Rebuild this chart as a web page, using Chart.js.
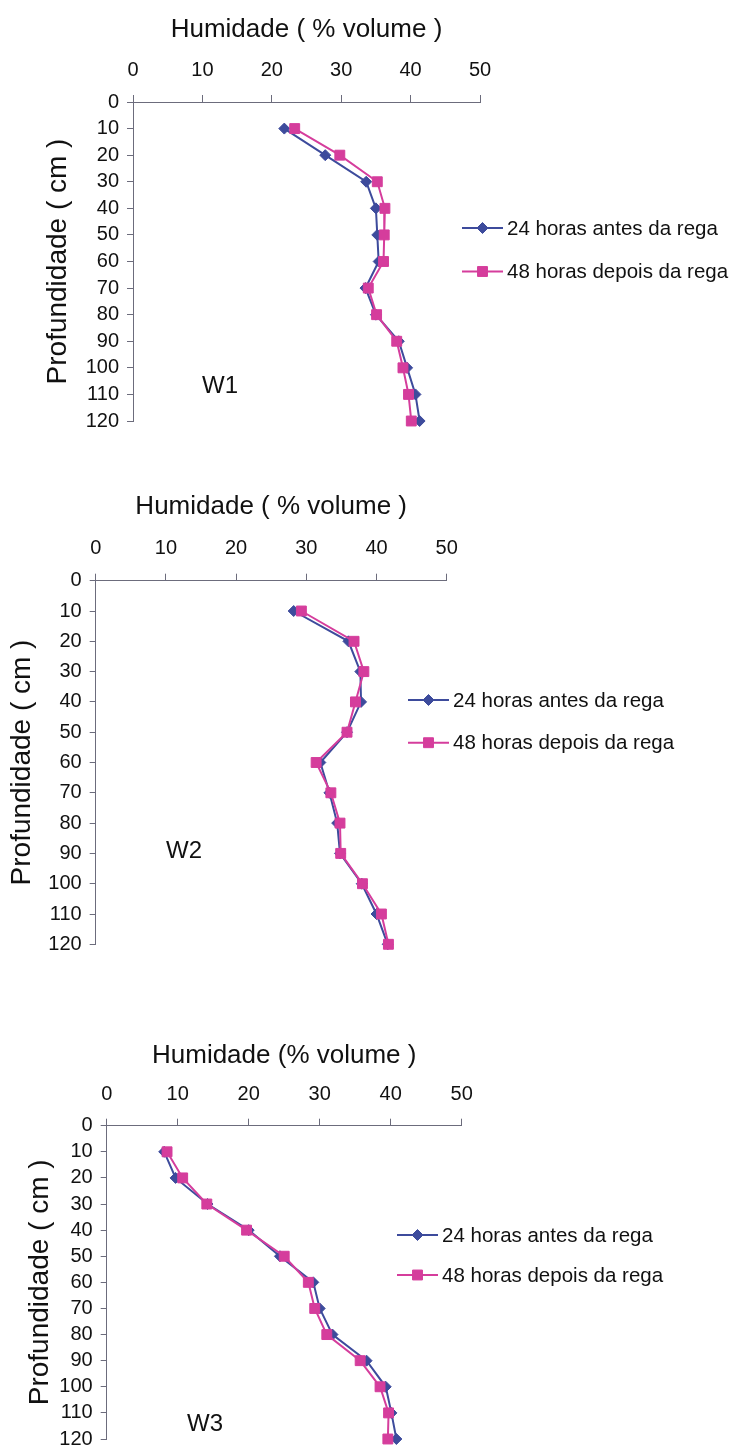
<!DOCTYPE html>
<html>
<head>
<meta charset="utf-8">
<script src="https://cdn.jsdelivr.net/npm/chart.js@4.4.0/dist/chart.umd.min.js"></script>
<style>
  body { margin: 0; background: #fff; width: 732px; height: 1447px; position: relative; overflow: hidden; }
  canvas { position: absolute; left: 0; }
</style>
</head>
<body>
<canvas id="w1" style="top:0px"></canvas>
<canvas id="w2" style="top:470px"></canvas>
<canvas id="w3" style="top:1000px"></canvas>
<script>
// profundidade (cm) e humidade (% volume)
const depths = [10, 20, 30, 40, 50, 60, 70, 80, 90, 100, 110, 120];
const xTicks = [0, 10, 20, 30, 40, 50];
const yTicks = [0, 10, 20, 30, 40, 50, 60, 70, 80, 90, 100, 110, 120];

const w1Antes  = [21.8, 27.7, 33.6, 35.0, 35.2, 35.4, 33.5, 35.0, 38.3, 39.5, 40.7, 41.3];
const w1Depois = [23.3, 29.8, 35.2, 36.3, 36.2, 36.1, 33.9, 35.1, 38.0, 38.9, 39.7, 40.1];
const w2Antes  = [28.2, 36.0, 37.7, 37.8, 35.8, 32.0, 33.3, 34.4, 34.8, 37.9, 40.0, 41.6];
const w2Depois = [29.3, 36.8, 38.2, 37.0, 35.8, 31.4, 33.5, 34.8, 34.9, 38.0, 40.7, 41.7];
const w3Antes  = [8.1, 9.7, 14.2, 20.0, 24.4, 29.1, 30.0, 31.8, 36.6, 39.3, 40.1, 40.8];
const w3Depois = [8.5, 10.7, 14.1, 19.7, 25.0, 28.4, 29.3, 31.0, 35.7, 38.5, 39.7, 39.6];

const labelAntes = '24 horas antes da rega';
const labelDepois = '48 horas depois da rega';

const FONT = '"Liberation Sans", Arial, sans-serif';
const BLUE = '#3d4b9c';
const PINK = '#d53d9c';
const AXIS = '#6c6c7c';

// legenda e etiqueta W desenhadas à mão
const overlay = {
  id: 'overlay',
  afterDraw(chart, args, opts) {
    const ctx = chart.ctx;
    ctx.save();
    chart.data.datasets.forEach((ds, i) => {
      const y = opts.legendY + i * opts.legendGap;
      ctx.strokeStyle = ds.borderColor;
      ctx.fillStyle = ds.backgroundColor;
      ctx.lineWidth = 2;
      ctx.beginPath();
      ctx.moveTo(opts.legendX, y);
      ctx.lineTo(opts.legendX + 41, y);
      ctx.stroke();
      ctx.lineWidth = 1;
      Chart.helpers.drawPoint(ctx, { pointStyle: ds.pointStyle, radius: ds.pointRadius, borderWidth: 1 }, opts.legendX + 20.5, y);
      ctx.fillStyle = '#111';
      ctx.font = '20.5px ' + FONT;
      ctx.textBaseline = 'middle';
      ctx.textAlign = 'left';
      ctx.fillText(ds.label, opts.legendX + 45, y + 1);
    });
    ctx.font = '24px ' + FONT;
    ctx.textAlign = 'center';
    ctx.fillStyle = '#111';
    ctx.fillText(opts.tag, opts.tagX, opts.tagY);
    ctx.restore();
  }
};

function pts(vals) {
  return vals.map((v, i) => ({ x: v, y: depths[i] }));
}

function makeChart(id, antes, depois, xTitle, g) {
  const cv = document.getElementById(id);
  cv.width = 732; cv.height = g.h;
  cv.style.width = '732px'; cv.style.height = g.h + 'px';
  return new Chart(cv.getContext('2d'), {
    type: 'line',
    data: {
      datasets: [{
        label: labelAntes,
        data: pts(antes),
        borderColor: BLUE,
        backgroundColor: BLUE,
        borderWidth: 2,
        pointStyle: 'rectRot',
        pointRadius: 5.5,
        pointBorderWidth: 1,
        tension: 0,
        clip: false,
        order: 1
      }, {
        label: labelDepois,
        data: pts(depois),
        borderColor: PINK,
        backgroundColor: PINK,
        borderWidth: 2,
        pointStyle: 'rect',
        pointRadius: 7,
        pointBorderWidth: 1,
        tension: 0,
        clip: false,
        order: 0
      }]
    },
    options: {
      responsive: false,
      animation: false,
      events: [],
      layout: { padding: { left: g.pl, top: g.pt, right: 732 - g.right, bottom: g.pb } },
      plugins: {
        legend: { display: false },
        tooltip: { enabled: false },
        overlay: g.overlay
      },
      scales: {
        x: {
          type: 'linear',
          position: 'top',
          min: 0, max: 50,
          afterBuildTicks: s => { s.ticks = xTicks.map(v => ({ value: v })); },
          afterFit: s => { s.height = g.xh; s.paddingLeft = 0; s.paddingRight = 0; },
          ticks: { color: '#111', font: { family: FONT, size: 20 }, padding: g.xpad, maxRotation: 0, autoSkip: false },
          grid: { drawOnChartArea: false, drawTicks: true, tickLength: 7, color: AXIS },
          border: { display: true, color: AXIS, width: 1 },
          title: { display: true, text: xTitle, color: '#111', font: { family: FONT, size: 26 }, padding: 0 }
        },
        y: {
          type: 'linear',
          reverse: true,
          min: 0, max: 120,
          afterBuildTicks: s => { s.ticks = yTicks.map(v => ({ value: v })); },
          afterFit: s => { s.width = g.yw; s.paddingTop = 0; s.paddingBottom = 0; },
          ticks: { color: '#111', font: { family: FONT, size: 20 }, padding: 8, autoSkip: false },
          grid: { drawOnChartArea: false, drawTicks: true, tickLength: 6, color: AXIS },
          border: { display: true, color: AXIS, width: 1 },
          title: { display: true, text: 'Profundidade ( cm )', color: '#111', font: { family: FONT, size: 28 }, padding: 0 }
        }
      }
    },
    plugins: [overlay]
  });
}

makeChart('w1', w1Antes, w1Depois, 'Humidade ( % volume )', {
  h: 445, pl: 41.2, yw: 91.8, pt: 14, xh: 88, right: 480, pb: 24, xpad: 13,
  overlay: { legendX: 462, legendY: 228, legendGap: 43.5, tag: 'W1', tagX: 220, tagY: 386 }
});
makeChart('w2', w2Antes, w2Depois, 'Humidade ( % volume )', {
  h: 500, pl: 5.2, yw: 90.5, pt: 21, xh: 89.7, right: 446.7, pb: 25.7, xpad: 13.5,
  overlay: { legendX: 408, legendY: 230, legendGap: 42.7, tag: 'W2', tagX: 184, tagY: 381 }
});
makeChart('w3', w3Antes, w3Depois, 'Humidade (% volume )', {
  h: 447, pl: 23.2, yw: 83.5, pt: 40.5, xh: 85.2, right: 461.7, pb: 8, xpad: 12,
  overlay: { legendX: 397, legendY: 235, legendGap: 40, tag: 'W3', tagX: 205, tagY: 424 }
});
</script>
</body>
</html>
